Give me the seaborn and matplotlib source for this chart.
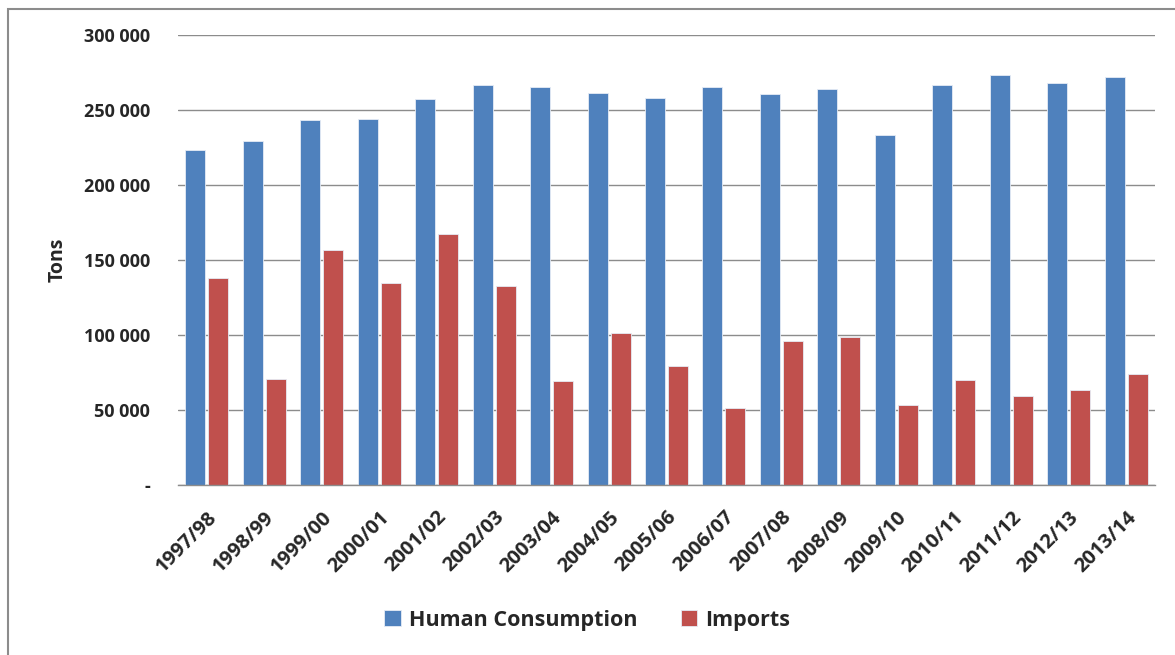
import matplotlib
matplotlib.use("Agg")
import matplotlib.pyplot as plt
import matplotlib.ticker as mticker
from matplotlib.patches import Rectangle
import seaborn as sns
import pandas as pd

seasons = ["1997/98", "1998/99", "1999/00", "2000/01", "2001/02", "2002/03",
           "2003/04", "2004/05", "2005/06", "2006/07", "2007/08", "2008/09",
           "2009/10", "2010/11", "2011/12", "2012/13", "2013/14"]
human_consumption = [223000, 229000, 243000, 244000, 257500, 266500, 265500,
                     261000, 258000, 265000, 260500, 264000, 233500, 266500,
                     273000, 268000, 272000]
imports = [138000, 71000, 157000, 135000, 167000, 132500, 69500, 101500,
           79500, 51500, 96000, 98500, 53500, 70000, 59500, 63500, 74000]
series_names = ["Human Consumption", "Imports"]
y_ticks = [0, 50000, 100000, 150000, 200000, 250000, 300000]

df = pd.DataFrame({
    "season": seasons * 2,
    "value": human_consumption + imports,
    "series": [series_names[0]] * len(seasons) + [series_names[1]] * len(seasons),
})

sns.set_theme(style="white")
plt.rcParams["font.family"] = ["Open Sans", "DejaVu Sans"]

fig = plt.figure(figsize=(11.75, 6.55), dpi=100)
ax = fig.add_axes([0.1515, 0.2595, 0.8315, 0.6871])

sns.barplot(data=df, x="season", y="value", hue="series", order=seasons,
            hue_order=series_names, palette=["#4F81BD", "#C0504D"],
            saturation=1, width=0.8, gap=0.13, edgecolor="#E6ECF5",
            linewidth=0.6, ax=ax, legend=True)

ax.set_ylim(0, 300000)
ax.set_xlim(-0.5, len(seasons) - 0.5)
ax.set_yticks(y_ticks)
ax.yaxis.set_major_formatter(mticker.FuncFormatter(
    lambda v, p: "-" if v == 0 else f"{int(v):,}".replace(",", " ")))
ax.grid(axis="y", color="#8C8C8C", linewidth=1.0)
ax.set_axisbelow(True)
for side in ["top", "right", "left"]:
    ax.spines[side].set_visible(False)
ax.spines["bottom"].set_color("#8C8C8C")
ax.spines["bottom"].set_linewidth(1.0)
ax.tick_params(axis="both", length=0)
ax.tick_params(axis="y", pad=20)
ax.tick_params(axis="x", pad=16)

for lbl in ax.get_yticklabels():
    lbl.set_fontsize(13)
    lbl.set_fontweight("bold")
for lbl in ax.get_xticklabels():
    lbl.set_fontsize(14.5)
    lbl.set_fontweight("bold")
    lbl.set_rotation(45)
    lbl.set_ha("right")
    lbl.set_rotation_mode("anchor")

ax.set_xlabel("")
ax.set_ylabel("Tons", fontsize=14, fontweight="bold", labelpad=12)

handles, labels = ax.get_legend_handles_labels()
ax.get_legend().remove()
fig.legend(handles, labels, loc="center", bbox_to_anchor=(0.5, 0.053),
           ncol=2, frameon=False, prop={"size": 15.5, "weight": "bold"},
           handlelength=0.75, handleheight=0.75, handletextpad=0.4,
           columnspacing=2.0)

fig.patches.append(Rectangle((8 / 1175, -0.05), 1.2, (655 - 9) / 655 + 0.05,
                             transform=fig.transFigure, fill=False,
                             edgecolor="#8C8C8C", linewidth=1.5))

fig.savefig("out.png", dpi=100)
